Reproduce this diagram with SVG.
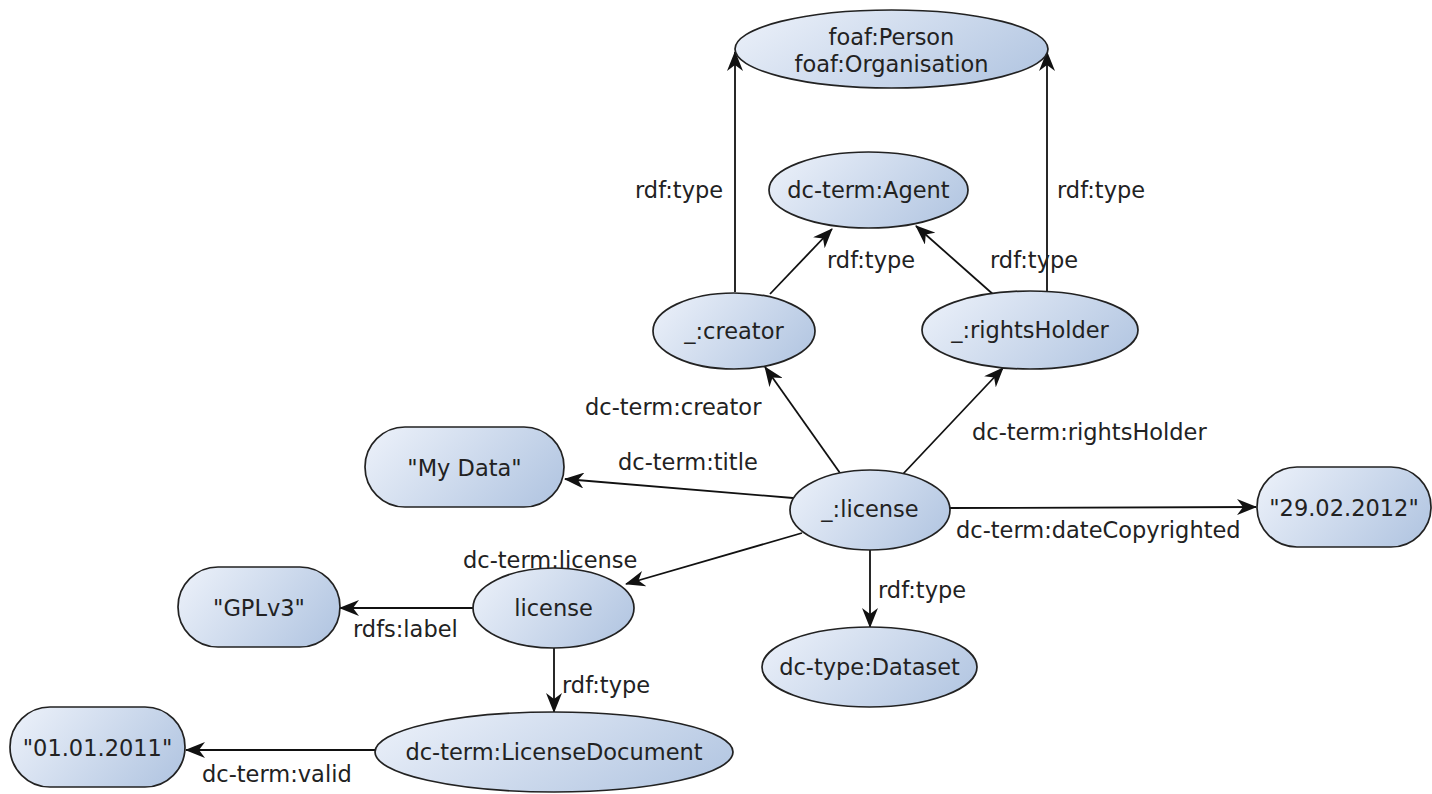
<svg xmlns="http://www.w3.org/2000/svg" width="1432" height="794" viewBox="0 0 1432 794">
<style>
.n{fill:url(#g);stroke:#222;stroke-width:1.7}
.t{font-family:"DejaVu Sans",sans-serif;font-size:22.5px;fill:#222;text-anchor:middle}
.l{font-family:"DejaVu Sans",sans-serif;font-size:22.5px;fill:#222}
.e{stroke:#111;stroke-width:1.8;fill:none;marker-end:url(#a)}
</style>
<defs>
<linearGradient id="g" x1="0" y1="0.3" x2="1" y2="0.7">
<stop offset="0" stop-color="#e8eef8"/>
<stop offset="1" stop-color="#b4c7e2"/>
</linearGradient>
<marker id="a" viewBox="0 0 20 16" refX="19" refY="8" markerWidth="20" markerHeight="16" orient="auto" markerUnits="userSpaceOnUse">
<path d="M20,8 L0,0 L6,8 L0,16 Z" fill="#111"/>
</marker>
</defs>
<rect width="1432" height="794" fill="#fff"/>
<g id="edges">
<line class="e" x1="735" y1="292" x2="735" y2="52"/>
<line class="e" x1="1047" y1="291" x2="1047" y2="52"/>
<line class="e" x1="770" y1="294" x2="832" y2="229"/>
<line class="e" x1="995" y1="296" x2="916" y2="226"/>
<line class="e" x1="840" y1="473" x2="765" y2="367"/>
<line class="e" x1="903" y1="474" x2="1003" y2="368"/>
<line class="e" x1="793" y1="498" x2="565" y2="479"/>
<line class="e" x1="950" y1="508" x2="1256" y2="507"/>
<line class="e" x1="802" y1="533" x2="626" y2="584"/>
<line class="e" x1="870" y1="550" x2="870" y2="627"/>
<line class="e" x1="473" y1="608" x2="340" y2="608"/>
<line class="e" x1="554" y1="648" x2="554" y2="712"/>
<line class="e" x1="375" y1="750" x2="186" y2="750"/>
</g>
<g id="edge-labels">
<text class="l" x="635" y="198">rdf:type</text>
<text class="l" x="1057" y="198">rdf:type</text>
<text class="l" x="827" y="268">rdf:type</text>
<text class="l" x="990" y="268">rdf:type</text>
<text class="l" x="585" y="415">dc-term:creator</text>
<text class="l" x="972" y="440">dc-term:rightsHolder</text>
<text class="l" x="618" y="470">dc-term:title</text>
<text class="l" x="956" y="538">dc-term:dateCopyrighted</text>
<text class="l" x="463" y="568">dc-term:license</text>
<text class="l" x="353" y="637">rdfs:label</text>
<text class="l" x="878" y="598">rdf:type</text>
<text class="l" x="562" y="693">rdf:type</text>
<text class="l" x="202" y="782">dc-term:valid</text>
</g>
<g id="n-foaf">
<ellipse class="n" cx="891.5" cy="49" rx="156.5" ry="39"/>
<text class="t" x="891.5" y="45">foaf:Person</text>
<text class="t" x="891.5" y="72">foaf:Organisation</text>
</g>
<g id="n-agent">
<ellipse class="n" cx="868.5" cy="190" rx="99.5" ry="38"/>
<text class="t" x="868.5" y="198">dc-term:Agent</text>
</g>
<g id="n-creator">
<ellipse class="n" cx="734" cy="331" rx="81" ry="38"/>
<text class="t" x="734" y="339">_:creator</text>
</g>
<g id="n-rightsholder">
<ellipse class="n" cx="1030" cy="330" rx="108" ry="39"/>
<text class="t" x="1030" y="338">_:rightsHolder</text>
</g>
<g id="n-mydata">
<rect class="n" x="365" y="427" width="199" height="80" rx="40" ry="40"/>
<text class="t" x="464.5" y="476">"My Data"</text>
</g>
<g id="n-license-bnode">
<ellipse class="n" cx="870" cy="510" rx="80" ry="40"/>
<text class="t" x="870" y="517">_:license</text>
</g>
<g id="n-date2012">
<rect class="n" x="1257" y="467" width="174" height="80" rx="40" ry="40"/>
<text class="t" x="1344" y="516">"29.02.2012"</text>
</g>
<g id="n-gplv3">
<rect class="n" x="178" y="567" width="162" height="80" rx="40" ry="40"/>
<text class="t" x="259" y="616">"GPLv3"</text>
</g>
<g id="n-license">
<ellipse class="n" cx="553.5" cy="608" rx="80.5" ry="40"/>
<text class="t" x="553.5" y="616">license</text>
</g>
<g id="n-dataset">
<ellipse class="n" cx="869.5" cy="667" rx="107.5" ry="40"/>
<text class="t" x="869.5" y="675">dc-type:Dataset</text>
</g>
<g id="n-date2011">
<rect class="n" x="10" y="707" width="175" height="80" rx="40" ry="40"/>
<text class="t" x="97.5" y="756">"01.01.2011"</text>
</g>
<g id="n-licdoc">
<ellipse class="n" cx="554" cy="752" rx="179" ry="40"/>
<text class="t" x="554" y="760">dc-term:LicenseDocument</text>
</g>
</svg>
